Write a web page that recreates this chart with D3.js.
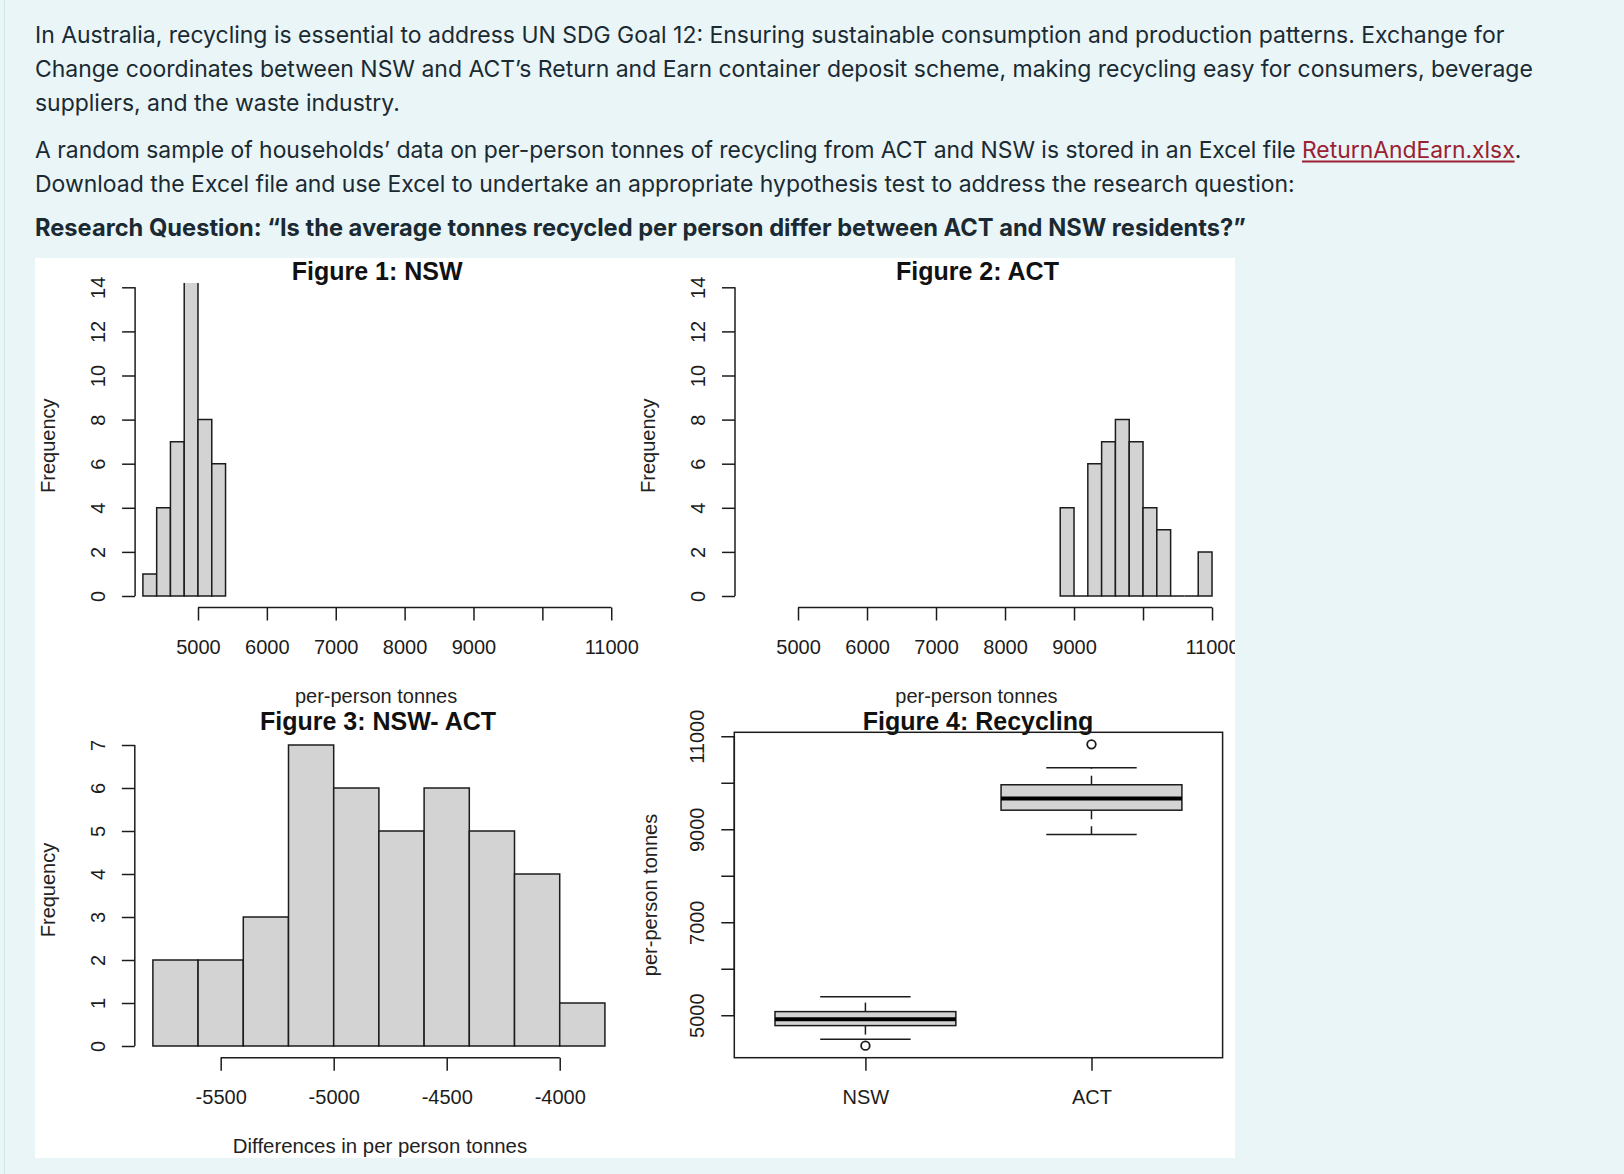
<!DOCTYPE html>
<html><head><meta charset="utf-8">
<script src="https://cdn.jsdelivr.net/npm/d3@7"></script>
<style>
html,body{margin:0;padding:0;background:#e9f5f7;}
svg{display:block}
svg text{white-space:pre}
</style></head>
<body>
<svg id="c" width="1624" height="1174"></svg>
<script>
// ---------------- data ----------------
const paragraph1 = [
  "In Australia, recycling is essential to address UN SDG Goal 12: Ensuring sustainable consumption and production patterns. Exchange for",
  "Change coordinates between NSW and ACT’s Return and Earn container deposit scheme, making recycling easy for consumers, beverage",
  "suppliers, and the waste industry."
];
const paragraph2Start = "A random sample of households’ data on per-person tonnes of recycling from ACT and NSW is stored in an Excel file ";
const linkText = "ReturnAndEarn.xlsx";
const paragraph2End = ".";
const paragraph2Line2 = "Download the Excel file and use Excel to undertake an appropriate hypothesis test to address the research question:";
const researchQuestion = "Research Question: “Is the average tonnes recycled per person differ between ACT and NSW residents?”";

const binWidth = 200;
const nswBinStarts = [4200, 4400, 4600, 4800, 5000, 5200];
const nswCounts    = [1, 4, 7, 15, 8, 6];
const actBinStarts = [8800, 9000, 9200, 9400, 9600, 9800, 10000, 10200, 10400, 10600, 10800];
const actCounts    = [4, 0, 6, 7, 8, 7, 4, 3, 0, 0, 2];
const diffBinStarts = [-5800, -5600, -5400, -5200, -5000, -4800, -4600, -4400, -4200, -4000];
const diffCounts    = [2, 2, 3, 7, 6, 5, 6, 5, 4, 1];

const histXTicks = [5000, 6000, 7000, 8000, 9000, 10000, 11000];
const histXTickLabels = ["5000", "6000", "7000", "8000", "9000", "", "11000"];
const histYTicks = [0, 2, 4, 6, 8, 10, 12, 14];
const diffXTicks = [-5500, -5000, -4500, -4000];
const diffXTickLabels = ["-5500", "-5000", "-4500", "-4000"];
const diffYTicks = [0, 1, 2, 3, 4, 5, 6, 7];

const boxGroups = ["NSW", "ACT"];
const boxLowerWhisker = [4485, 8886];
const boxQ1 = [4777, 9410];
const boxMedian = [4915, 9662];
const boxQ3 = [5078, 9957];
const boxUpperWhisker = [5400, 10324];
const boxOutliers = [[4346], [10826]];
const boxYTicks = [5000, 6000, 7000, 8000, 9000, 10000, 11000];
const boxYTickLabels = ["5000", "", "7000", "", "9000", "", "11000"];

const titles = ["Figure 1: NSW", "Figure 2: ACT", "Figure 3: NSW- ACT", "Figure 4: Recycling"];
const xLabelHist = "per-person tonnes";
const yLabelHist = "Frequency";
const xLabelDiff = "Differences in per person tonnes";
const yLabelBox = "per-person tonnes";

// ---------------- page ----------------
const svg = d3.select("#c");
const textFont = "Inter, 'Open Sans', sans-serif";
const textColor = "#1b2a32";
svg.append("rect").attr("width", 1624).attr("height", 1174).attr("fill", "#e9f5f7");
svg.append("line").attr("x1", 4.5).attr("x2", 4.5).attr("y1", 0).attr("y2", 1174)
  .attr("stroke", "#cfe6eb").attr("stroke-width", 1);

const leftX = 35;
function fitSize(txt, weight, target) {
  const probe = svg.append("text").attr("font-family", textFont).attr("font-weight", weight)
    .attr("font-size", 22).text(txt);
  const s = 22 * target / probe.node().getComputedTextLength();
  probe.remove();
  return s;
}
const fs = fitSize(paragraph1[0], 400, 1470);
const fsP2 = fitSize(paragraph2Start + linkText + paragraph2End, 400, 1487);
const fsBold = fitSize(researchQuestion, 700, 1212);

const bodyLines = [
  { t: paragraph1[0], y: 43 },
  { t: paragraph1[1], y: 77 },
  { t: paragraph1[2], y: 110.5 },
  { t: paragraph2Line2, y: 191.5 }
];
svg.selectAll("text.body").data(bodyLines).join("text").attr("class", "body")
  .attr("x", leftX).attr("y", d => d.y).attr("font-family", textFont).attr("font-size", fs)
  .attr("fill", textColor).text(d => d.t);

const p2 = svg.append("text").attr("x", leftX).attr("y", 158).attr("font-family", textFont)
  .attr("font-size", fsP2).attr("fill", textColor).attr("xml:space", "preserve").text(paragraph2Start);
const p2w = p2.node().getComputedTextLength();
const link = svg.append("text").attr("x", leftX + p2w).attr("y", 158).attr("font-family", textFont)
  .attr("font-size", fsP2).attr("fill", "#9b2132").text(linkText);
const lw = link.node().getComputedTextLength();
svg.append("line").attr("x1", leftX + p2w).attr("x2", leftX + p2w + lw).attr("y1", 161.5).attr("y2", 161.5)
  .attr("stroke", "#9b2132").attr("stroke-width", 1.8);
svg.append("text").attr("x", leftX + p2w + lw).attr("y", 158).attr("font-family", textFont)
  .attr("font-size", fsP2).attr("fill", textColor).text(paragraph2End);

svg.append("text").attr("x", leftX).attr("y", 236).attr("font-family", textFont).attr("font-size", fsBold)
  .attr("font-weight", 700).attr("fill", textColor).text(researchQuestion);

// ---------------- chart image ----------------
const img = { x: 35, y: 258, w: 1200, h: 900 };
svg.append("rect").attr("x", img.x).attr("y", img.y).attr("width", img.w).attr("height", img.h).attr("fill", "#ffffff");
const defs = svg.append("defs");
defs.append("clipPath").attr("id", "imgClip").append("rect")
  .attr("x", img.x).attr("y", img.y).attr("width", img.w).attr("height", img.h);
const chart = svg.append("g").attr("clip-path", "url(#imgClip)");

const rFont = "'Liberation Sans', Arial, Helvetica, sans-serif";
const ink = "#1c1c1c";
const lineW = 1.5;
const barFill = "#d3d3d3";

function axisLeftR(g, scale, ticks, labels, x0) {
  const ax = g.append("g").attr("transform", `translate(${x0},0)`);
  ax.call(d3.axisLeft(scale).tickValues(ticks).tickSize(13).tickSizeOuter(0)
    .tickFormat((d, i) => labels[i]));
  ax.select(".domain").remove();
  ax.append("line").attr("x1", 0).attr("x2", 0)
    .attr("y1", scale(ticks[0])).attr("y2", scale(ticks[ticks.length - 1]))
    .attr("stroke", ink).attr("stroke-width", lineW);
  ax.selectAll(".tick line").attr("stroke", ink).attr("stroke-width", lineW);
  ax.selectAll(".tick text").attr("transform", "rotate(-90)").attr("x", 0).attr("y", -37)
    .attr("dy", "0.35em").attr("text-anchor", "middle").attr("font-family", rFont)
    .attr("font-size", 20).attr("fill", ink);
  return ax;
}
function axisBottomR(g, scale, ticks, labels, y0, drawLine) {
  const ax = g.append("g").attr("transform", `translate(0,${y0})`);
  ax.call(d3.axisBottom(scale).tickValues(ticks).tickSize(13).tickSizeOuter(0)
    .tickFormat((d, i) => labels[i]));
  ax.select(".domain").remove();
  if (drawLine) {
    ax.append("line").attr("y1", 0).attr("y2", 0)
      .attr("x1", scale(ticks[0])).attr("x2", scale(ticks[ticks.length - 1]))
      .attr("stroke", ink).attr("stroke-width", lineW);
  }
  ax.selectAll(".tick line").attr("stroke", ink).attr("stroke-width", lineW);
  ax.selectAll(".tick text").attr("y", 39).attr("dy", "0.35em").attr("text-anchor", "middle")
    .attr("font-family", rFont).attr("font-size", 20).attr("fill", ink);
  return ax;
}
function title(g, txt, x, y) {
  g.append("text").attr("x", x).attr("y", y).attr("text-anchor", "middle")
    .attr("font-family", rFont).attr("font-weight", 700).attr("font-size", 25).attr("fill", "#111").text(txt);
}
function label(g, txt, x, y, rotate) {
  const t = g.append("text").attr("text-anchor", "middle").attr("font-family", rFont)
    .attr("font-size", 20).attr("fill", "#222").text(txt);
  if (rotate) t.attr("transform", `translate(${x},${y}) rotate(-90)`).attr("dy", "0.35em");
  else t.attr("x", x).attr("y", y);
}
function bars(g, starts, counts, x, y) {
  g.selectAll("path.bar").data(starts.map((s, i) => ({ s, c: counts[i] }))).join("path")
    .attr("class", "bar")
    .attr("d", d => `M${x(d.s)},${y(0)}V${y(d.c)}H${x(d.s + binWidth)}V${y(0)}Z`)
    .attr("fill", barFill).attr("stroke", ink).attr("stroke-width", lineW);
}

// shared value domain (R style 4% padding on data range)
const allVals = boxLowerWhisker.concat(boxUpperWhisker, boxOutliers.flat());
const vLo = d3.min(allVals), vHi = d3.max(allVals), vPad = 0.04 * (vHi - vLo);
const valueDomain = [vLo - vPad, vHi + vPad];

// Figure 1 & 2 histograms
const histY = d3.scaleLinear().domain([0, 14]).range([596, 287.3]);
const histTop = 283, histBottom = 608.3;
const panels = [
  { starts: nswBinStarts, counts: nswCounts, range: [135.1, 617.1], axisX: 135.1, title: titles[0] },
  { starts: actBinStarts, counts: actCounts, range: [735, 1217.9], axisX: 735, title: titles[1] }
];
panels.forEach((p, i) => {
  const x = d3.scaleLinear().domain(valueDomain).range(p.range);
  const cid = "histClip" + i;
  defs.append("clipPath").attr("id", cid).append("rect")
    .attr("x", p.range[0]).attr("y", histTop).attr("width", p.range[1] - p.range[0]).attr("height", histBottom - histTop);
  const g = chart.append("g");
  bars(g.append("g").attr("clip-path", `url(#${cid})`), p.starts, p.counts, x, histY);
  axisLeftR(g, histY, histYTicks, histYTicks.map(String), p.axisX);
  axisBottomR(g, x, histXTicks, histXTickLabels, 607.5, true);
  const cx = (p.range[0] + p.range[1]) / 2;
  title(g, p.title, cx + 1, 280);
  label(g, xLabelHist, cx, 703, false);
  label(g, yLabelHist, p.axisX - 87.3, (histTop + histBottom) / 2, true);
});

// Figure 3 differences histogram
{
  const lo = diffBinStarts[0], hi = diffBinStarts[diffBinStarts.length - 1] + binWidth;
  const pad = 0.04 * (hi - lo);
  const x = d3.scaleLinear().domain([lo - pad, hi + pad]).range([134.8, 623]);
  const y = d3.scaleLinear().domain([0, 7]).range([1046, 745]);
  const g = chart.append("g");
  bars(g, diffBinStarts, diffCounts, x, y);
  axisLeftR(g, y, diffYTicks, diffYTicks.map(String), 134.8);
  axisBottomR(g, x, diffXTicks, diffXTickLabels, 1057.7, true);
  title(g, titles[2], 378, 730);
  g.append("text").attr("x", 380).attr("y", 1152.5).attr("text-anchor", "middle")
    .attr("font-family", rFont).attr("font-size", 20.4).attr("fill", "#222").text(xLabelDiff);
  label(g, yLabelHist, 47.5, 890, true);
}

// Figure 4 boxplot
{
  const frame = { x0: 734.3, x1: 1222.6, y0: 732.3, y1: 1057.7 };
  const x = d3.scaleLinear().domain([0.42, 2.58]).range([frame.x0, frame.x1]);
  const y = d3.scaleLinear().domain(valueDomain).range([frame.y1, frame.y0]);
  const g = chart.append("g");
  title(g, titles[3], 978, 730);
  const data = boxGroups.map((name, i) => ({
    name, pos: i + 1, lo: boxLowerWhisker[i], q1: boxQ1[i], med: boxMedian[i], q3: boxQ3[i],
    hi: boxUpperWhisker[i], out: boxOutliers[i]
  }));
  const bg = g.selectAll("g.box").data(data).join("g").attr("class", "box");
  // whiskers (dashed)
  bg.append("line").attr("x1", d => x(d.pos)).attr("x2", d => x(d.pos))
    .attr("y1", d => y(d.q3)).attr("y2", d => y(d.hi))
    .attr("stroke", ink).attr("stroke-width", lineW).attr("stroke-dasharray", "9,7");
  bg.append("line").attr("x1", d => x(d.pos)).attr("x2", d => x(d.pos))
    .attr("y1", d => y(d.q1)).attr("y2", d => y(d.lo))
    .attr("stroke", ink).attr("stroke-width", lineW).attr("stroke-dasharray", "9,7");
  // caps
  ["hi", "lo"].forEach(k => {
    bg.append("line").attr("x1", d => x(d.pos - 0.2)).attr("x2", d => x(d.pos + 0.2))
      .attr("y1", d => y(d[k])).attr("y2", d => y(d[k]))
      .attr("stroke", ink).attr("stroke-width", lineW);
  });
  // box
  bg.append("rect").attr("x", d => x(d.pos - 0.4)).attr("width", d => x(d.pos + 0.4) - x(d.pos - 0.4))
    .attr("y", d => y(d.q3)).attr("height", d => y(d.q1) - y(d.q3))
    .attr("fill", barFill).attr("stroke", ink).attr("stroke-width", lineW);
  // median
  bg.append("line").attr("x1", d => x(d.pos - 0.4)).attr("x2", d => x(d.pos + 0.4))
    .attr("y1", d => y(d.med)).attr("y2", d => y(d.med))
    .attr("stroke", "#000").attr("stroke-width", 4);
  // outliers
  bg.selectAll("circle").data(d => d.out.map(v => ({ v, pos: d.pos }))).join("circle")
    .attr("cx", d => x(d.pos)).attr("cy", d => y(d.v)).attr("r", 4.3)
    .attr("fill", "none").attr("stroke", ink).attr("stroke-width", 1.8);
  // frame
  g.append("rect").attr("x", frame.x0).attr("y", frame.y0).attr("width", frame.x1 - frame.x0)
    .attr("height", frame.y1 - frame.y0).attr("fill", "none").attr("stroke", ink).attr("stroke-width", lineW);
  axisLeftR(g, y, boxYTicks, boxYTickLabels, frame.x0);
  axisBottomR(g, x, [1, 2], boxGroups, frame.y1, false);
  label(g, yLabelBox, 649.5, (frame.y0 + frame.y1) / 2, true);
}
</script>
</body></html>
